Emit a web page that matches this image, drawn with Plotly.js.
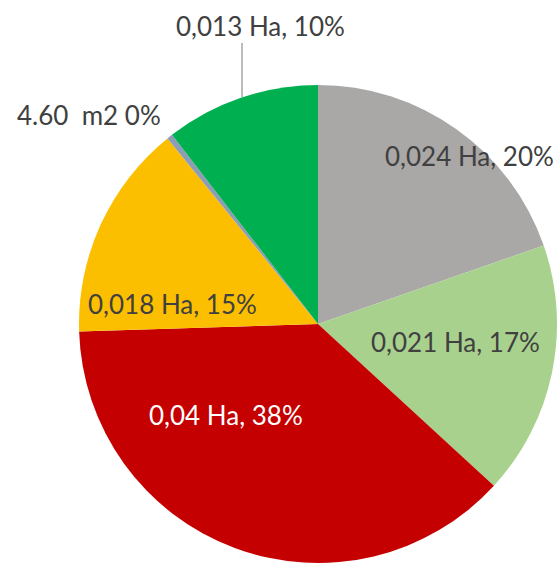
<!DOCTYPE html>
<html>
<head>
<meta charset="utf-8">
<script src="https://cdn.plot.ly/plotly-3.0.1.min.js"></script>
<style>
  html, body { margin: 0; padding: 0; width: 558px; height: 570px; overflow: hidden; background: #fff; }
  #chart { width: 636px; height: 570px; }
</style>
</head>
<body>
<div id="chart"></div>
<script>
// Surface of each plot, in square metres (clockwise from 12 o'clock)
const plotNames = ['Parcela A', 'Parcela B', 'Parcela C', 'Parcela D', 'Parcela E', 'Parcela F'];
const areasM2 = [235, 205, 450, 175, 4.6, 125];
// Surface as written on each label
const areaTexts = ['0,024 Ha', '0,021 Ha', '0,04 Ha', '0,018 Ha', '4.60  m2', '0,013 Ha'];
const textSeparators = [', ', ', ', ', ', ', ', ' ', ', '];
const sliceColors = ['#aaa7a7', '#a9d18e', '#c50000', '#fcbf00', '#8c9db5', '#00b050'];
const labelColors = ['#404040', '#404040', '#ffffff', '#404040', '#404040', '#404040'];

const W = 636, H = 570;
const total = areasM2.reduce((a, b) => a + b, 0);
const labelTexts = areasM2.map((v, i) =>
  areaTexts[i] + textSeparators[i] + Math.round(v / total * 100) + '%');

// Label centres in pixels
const labelPos = [[470, 156], [455, 342], [226, 415], [172, 304], [89, 115], [260, 26]];
const px = (x) => x / W;
const py = (y) => (H - y) / H;

const trace = {
  type: 'pie',
  labels: plotNames,
  values: areasM2,
  sort: false,
  direction: 'clockwise',
  rotation: 0,
  marker: { colors: sliceColors, line: { width: 0 } },
  textinfo: 'none',
  hoverinfo: 'skip',
  showlegend: false,
  domain: { x: [0, 1], y: [py(563), py(85)] }
};

const annotations = labelTexts.map((t, i) => ({
  text: t,
  x: px(labelPos[i][0]), y: py(labelPos[i][1]),
  xref: 'paper', yref: 'paper',
  xanchor: 'center', yanchor: 'middle',
  showarrow: false,
  font: { family: 'Lato, "Open Sans", sans-serif', size: 26, color: labelColors[i] }
}));

const layout = {
  width: W, height: H,
  margin: { l: 0, r: 0, t: 0, b: 0 },
  paper_bgcolor: '#ffffff',
  plot_bgcolor: '#ffffff',
  showlegend: false,
  annotations: annotations,
  shapes: [{
    type: 'line', xref: 'paper', yref: 'paper',
    x0: px(242), x1: px(242), y0: py(43), y1: py(97),
    line: { color: '#a6a6a6', width: 1.5 }
  }]
};

Plotly.newPlot('chart', [trace], layout, { displayModeBar: false, responsive: false });
</script>
</body>
</html>
